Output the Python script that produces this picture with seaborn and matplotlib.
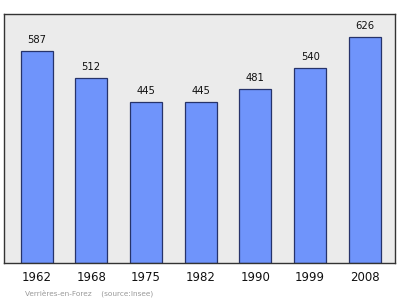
import matplotlib
matplotlib.use("Agg")
import matplotlib.pyplot as plt
import seaborn as sns
import pandas as pd

years = ["1962", "1968", "1975", "1982", "1990", "1999", "2008"]
population = [587, 512, 445, 445, 481, 540, 626]
source_text = "Verrières-en-Forez    (source:Insee)"

df = pd.DataFrame({"year": years, "pop": population})

sns.set_theme(style="white")
plt.rcParams['font.family'] = ['DejaVu Sans']

fig = plt.figure(figsize=(4.0, 2.99), dpi=100)
ax = fig.add_axes([4/400, 1 - 263/299, 391/400, 249/299])
ax.set_facecolor("#ebebeb")

sns.barplot(data=df, x="year", y="pop", ax=ax, color="#6f94fb",
            saturation=1, width=0.585, edgecolor="#26336a", linewidth=0.9)

for i, v in enumerate(population):
    ax.text(i, v + 17, str(v), ha="center", va="bottom", fontsize=7.2, color="#111111")

ax.set_xlim(-0.594, 6.55)
ax.set_ylim(0, 689)
ax.set_yticks([])
ax.set_xlabel("")
ax.set_ylabel("")
ax.tick_params(axis="x", length=0, pad=6, labelsize=8.5, labelcolor="#111111")
for s in ax.spines.values():
    s.set_color("#333333")
    s.set_linewidth(1.0)

fig.text(25/400, 1 - 293/299, source_text, fontsize=5.3, color="#999999", va="center")

fig.savefig("out.png", dpi=100, facecolor="white")
